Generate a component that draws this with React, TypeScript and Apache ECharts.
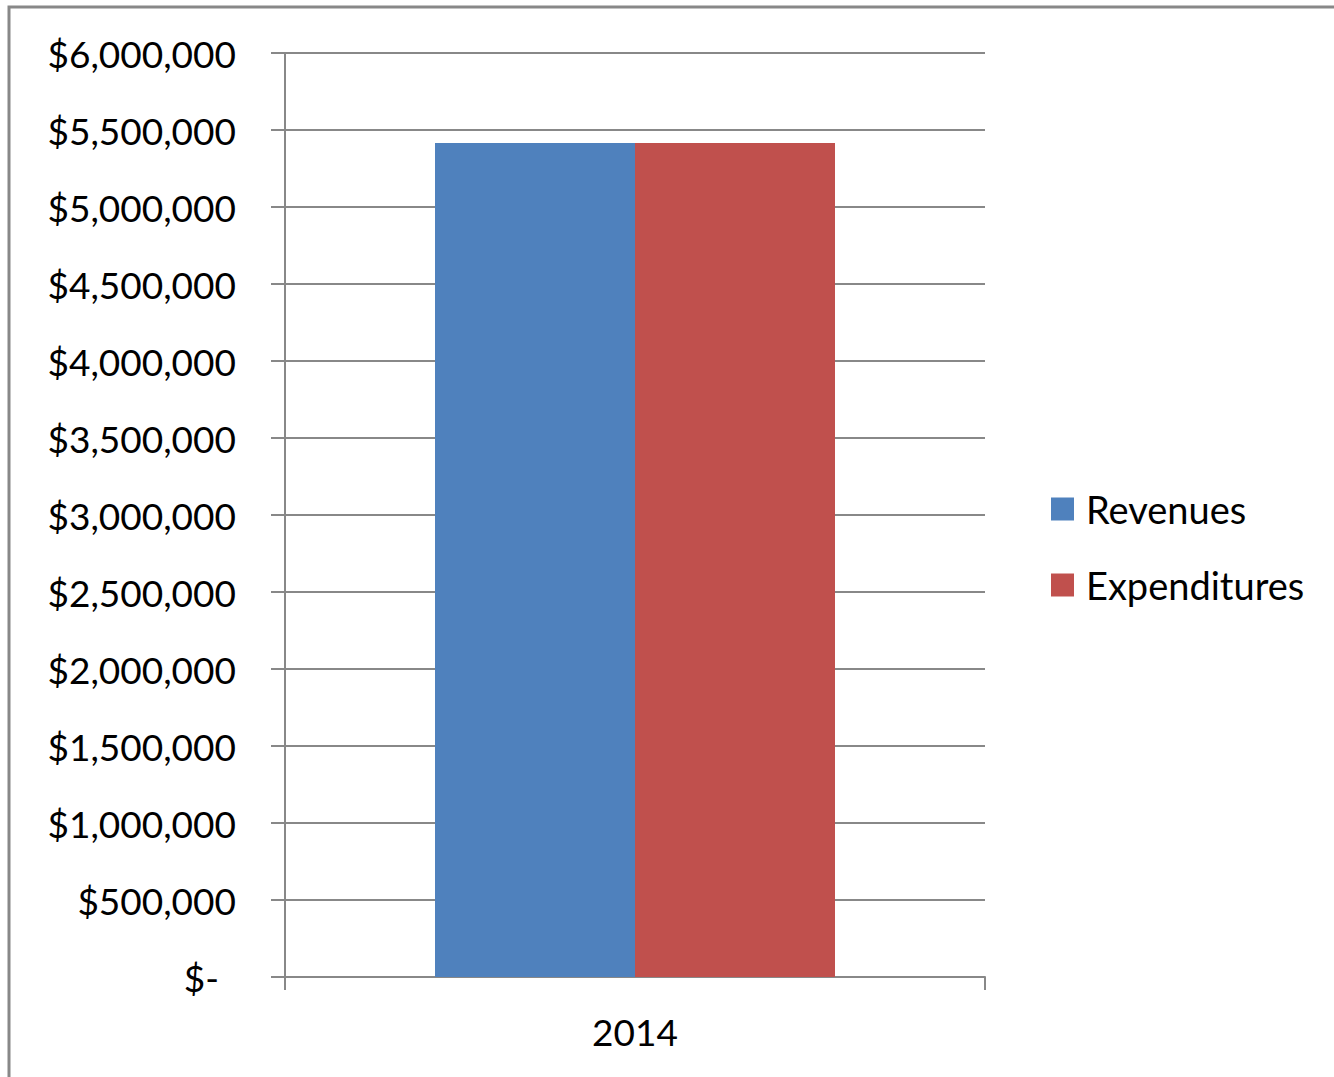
import React, { useEffect, useRef } from "react";
import * as echarts from "echarts";

const categories = ["2014"];
const revenues = [5415000];
const expenditures = [5415000];
const seriesNames = ["Revenues", "Expenditures"];

const FONT = "Lato";
const FS = 37;

export default function App() {
  const ref = useRef<HTMLDivElement>(null);
  useEffect(() => {
    document.body.style.margin = "0";
    const chart = echarts.init(ref.current!, null, { renderer: "svg" });
    const fmt = (v: number) => {
      if (v === 0) return "{z|$-}";
      return "$" + v.toLocaleString("en-US");
    };
    chart.setOption({
      animation: false,
      backgroundColor: "#ffffff",
      textStyle: { fontFamily: FONT },
      graphic: [
        {
          type: "rect",
          shape: { x: 9, y: 7, width: 1400, height: 1200 },
          style: { fill: "none", stroke: "#888888", lineWidth: 3 },
          silent: true,
        },
      ],
      grid: { left: 285, top: 53, width: 700, height: 924, containLabel: false },
      legend: {
        orient: "vertical",
        left: 1046,
        top: 485,
        itemWidth: 23,
        itemHeight: 23,
        itemGap: 38,
        icon: "rect",
        textStyle: { fontFamily: FONT, fontSize: 38, lineHeight: 36, color: "#000", padding: [0, 0, 0, 7] },
        data: seriesNames,
      },
      xAxis: {
        type: "category",
        data: categories,
        axisLine: { show: true, lineStyle: { color: "#888888", width: 2 } },
        axisTick: { show: true, length: 13, lineStyle: { color: "#888888", width: 2 } },
        axisLabel: { fontFamily: FONT, fontSize: FS, color: "#000", margin: 36 },
        splitLine: { show: false },
      },
      yAxis: {
        type: "value",
        min: 0,
        max: 6000000,
        interval: 500000,
        axisLine: { show: true, lineStyle: { color: "#888888", width: 2 } },
        axisTick: { show: true, length: 14, lineStyle: { color: "#888888", width: 2 } },
        axisLabel: {
          fontFamily: FONT,
          fontSize: FS,
          color: "#000",
          margin: 49,
          formatter: fmt,
          rich: { z: { fontFamily: FONT, fontSize: FS, color: "#000", padding: [0, 17, 0, 0] } },
        },
        splitLine: { show: true, lineStyle: { color: "#888888", width: 2 } },
      },
      series: [
        {
          name: seriesNames[0],
          type: "bar",
          data: revenues,
          barWidth: 200,
          barGap: "0%",
          itemStyle: { color: "#4F81BD" },
        },
        {
          name: seriesNames[1],
          type: "bar",
          data: expenditures,
          barWidth: 200,
          barGap: "0%",
          itemStyle: { color: "#C0504D" },
        },
      ],
    });
    return () => chart.dispose();
  }, []);
  return <div ref={ref} style={{ width: 1334, height: 1077 }} />;
}
